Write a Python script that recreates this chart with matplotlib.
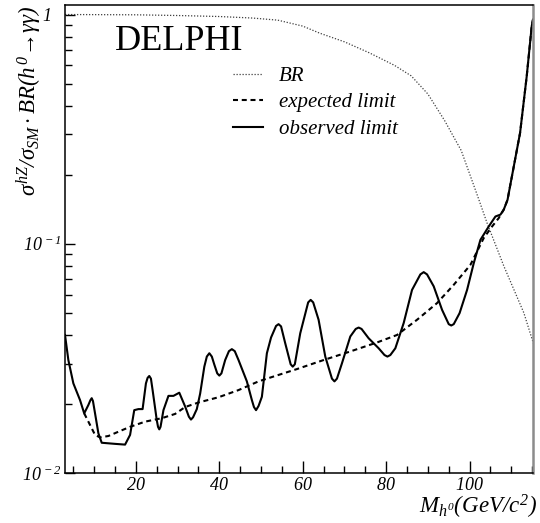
import numpy as np
import matplotlib
matplotlib.use('Agg')
import matplotlib.pyplot as plt
from matplotlib.ticker import FixedLocator, FixedFormatter, LogLocator, MultipleLocator, NullFormatter

plt.rcParams['font.family'] = ['Liberation Serif', 'DejaVu Serif']
plt.rcParams['mathtext.fontset'] = 'custom'
plt.rcParams['mathtext.rm'] = 'Liberation Serif:italic'
plt.rcParams['mathtext.it'] = 'Liberation Serif:italic'
plt.rcParams['mathtext.cal'] = 'Liberation Serif:italic'

# higgs mass (GeV/c^2) and ratios
mass_obs = [3, 3.8, 5.0, 6.6, 7.6, 8.6, 9.1, 9.4, 9.7, 10.2, 11.0, 11.8, 15, 17.4,
            18.6, 19.6, 20.6, 21.6, 22.4, 22.8, 23.2, 23.6, 24.0, 25.0, 25.3, 25.6,
            25.9, 26.6, 27.8, 29.0, 30.4, 31.8, 32.7, 33.2, 33.7, 34.6, 35.4, 36.4,
            37.0, 37.6, 38.2, 38.8, 39.5, 40.0, 40.5, 41.4, 42.3, 43.0, 43.7, 44.6,
            46.6, 47.8, 48.3, 48.8, 49.4, 50.2, 51.4, 52.4, 53.6, 54.2, 54.8, 55.8,
            57.1, 57.6, 58.1, 59.4, 61.3, 61.9, 62.5, 63.8, 65.4, 67.0, 67.6, 68.2,
            69.4, 71.4, 72.7, 73.4, 74.1, 75.8, 78.2, 79.6, 80.3, 81.0, 82.2, 84.2,
            86.2, 88.2, 89.0, 89.8, 91.4, 93.4, 95.0, 95.6, 96.2, 97.6, 99.4, 101.0,
            102.6, 104.6, 106.2, 107.4, 108.2, 109.1, 109.7, 112.1, 113.7, 114.9, 115.2]
observed = [0.0400, 0.0311, 0.0246, 0.0208, 0.0182, 0.0198, 0.0208, 0.0212, 0.0206,
            0.0182, 0.0149, 0.01355, 0.0134, 0.0133, 0.01466, 0.0188, 0.0190, 0.0190,
            0.0246, 0.0260, 0.0265, 0.0258, 0.0230, 0.0170, 0.0159, 0.0155, 0.0159,
            0.0188, 0.0217, 0.0217, 0.0224, 0.0195, 0.0176, 0.0171, 0.0175, 0.0190,
            0.0222, 0.0291, 0.0322, 0.0333, 0.0322, 0.0297, 0.0272, 0.0266, 0.0272,
            0.0311, 0.0340, 0.0347, 0.0340, 0.0311, 0.0251, 0.0208, 0.0194, 0.0188,
            0.0196, 0.0215, 0.0333, 0.0390, 0.0438, 0.0446, 0.0436, 0.0368, 0.0298,
            0.0291, 0.0298, 0.0407, 0.0555, 0.0569, 0.0555, 0.0466, 0.0322, 0.0258,
            0.0251, 0.0258, 0.0301, 0.0394, 0.0425, 0.0431, 0.0425, 0.0387, 0.0350,
            0.0327, 0.0322, 0.0327, 0.0350, 0.0451, 0.0629, 0.0735, 0.0752, 0.0735,
            0.0652, 0.0515, 0.0446, 0.0440, 0.0446, 0.0498, 0.0629, 0.0823, 0.104,
            0.119, 0.1315, 0.134, 0.141, 0.1555, 0.178, 0.304, 0.538, 0.89, 0.95]

mass_exp = [7.6, 9.0, 10.2, 11.4, 13.4, 15.8, 18.6, 22.2, 26.2, 29.4, 31.8, 35.0,
            39.8, 44.6, 49.4, 53.4, 58.6, 65.0, 71.4, 77.8, 82.6, 87.4, 92.2, 96.2,
            100.2, 103.4, 105.4, 107.0, 108.2, 109.1, 109.7, 112.1, 113.7, 114.9, 115.2]
expected = [0.0182, 0.0162, 0.01466, 0.0143, 0.0145, 0.01514, 0.0159, 0.01675, 0.01734,
            0.0181, 0.0194, 0.0203, 0.0214, 0.0230, 0.0251, 0.0265, 0.0284, 0.0311,
            0.0339, 0.0371, 0.0400, 0.0466, 0.0551, 0.0662, 0.0809, 0.106, 0.119,
            0.1295, 0.141, 0.1555, 0.178, 0.304, 0.538, 0.89, 0.95]

mass_br = [3, 20, 30, 40, 48, 54, 60, 64, 70, 76, 82, 86, 90, 94, 98, 102, 104.2,
           108.2, 113, 115.3]
br = [1.0, 0.997, 0.99, 0.98, 0.965, 0.945, 0.89, 0.83, 0.76, 0.68, 0.6, 0.54, 0.45,
      0.345, 0.255, 0.16, 0.123, 0.08, 0.05, 0.0368]

xtick_vals = [20, 40, 60, 80, 100]
ytick_vals = [0.01, 0.1, 1]
ytick_labels = [r'$10^{\,-2}$', r'$10^{\,-1}$', r'$1$' + '   ']

fig = plt.figure(figsize=(5.4, 5.23), dpi=100)
ax = fig.add_axes([0.1204, 0.0956, 0.8666, 0.8948])

ax.plot(mass_br, br, color='0.25', lw=0.9, ls=(0, (1, 1.4)), label='BR')
ax.plot(mass_exp, expected, color='black', lw=1.5, ls=(0, (2.4, 1.8)), label='expected limit')
ax.plot(mass_obs, observed, color='black', lw=1.5, label='observed limit')

ax.set_yscale('log')
ax.set_xlim(3, 115.2)
ax.set_ylim(0.01, 1.1)

ax.xaxis.set_major_locator(FixedLocator(xtick_vals))
ax.xaxis.set_minor_locator(MultipleLocator(5))
ax.yaxis.set_major_locator(FixedLocator(ytick_vals))
ax.yaxis.set_major_formatter(FixedFormatter(ytick_labels))
ax.yaxis.set_minor_locator(LogLocator(base=10, subs=np.arange(2, 10)))
ax.yaxis.set_minor_formatter(NullFormatter())
ax.set_xticklabels([r'$%d$' % v for v in xtick_vals])

ax.tick_params(which='both', direction='in', top=False, right=False, labelsize=13)
ax.tick_params(axis='x', which='major', length=9, width=1, pad=3)
ax.tick_params(axis='x', which='minor', length=5, width=1)
ax.tick_params(axis='y', which='major', length=7, width=1, pad=2)
ax.tick_params(axis='y', which='minor', length=5, width=1)

for s in ['left', 'bottom', 'top']:
    ax.spines[s].set_linewidth(1.1)
ax.spines['right'].set_linewidth(1.8)
ax.spines['right'].set_color('0.55')

ax.set_xlabel(r'$M_{h^0}(GeV/c^2)$', fontsize=16.5, loc='right')
ax.xaxis.set_label_coords(1.008, -0.042)
ax.set_ylabel(r'$\sigma^{hZ}/\sigma_{SM}\cdot BR(h^0\!\rightarrow\!\gamma\gamma)$', fontsize=16.5, loc='top')
ax.yaxis.set_label_coords(-0.045, 1.0)

ax.text(0.107, 0.904, 'DELPHI', transform=ax.transAxes, fontsize=26, va='baseline', ha='left')

leg = ax.legend(loc='upper left', bbox_to_anchor=(0.319, 0.909), frameon=False,
                handlelength=1.45, handletextpad=0.77, labelspacing=0.33,
                prop={'family': 'Liberation Serif', 'style': 'italic', 'size': 15})

fig.savefig('out.png', dpi=100)
